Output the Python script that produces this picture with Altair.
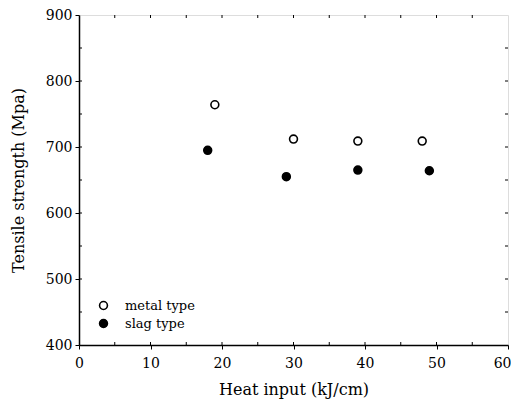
import altair as alt
import pandas as pd

heat_metal = [19, 30, 39, 48]
ts_metal = [764, 712, 709, 709]
heat_slag = [18, 29, 39, 49]
ts_slag = [695, 655, 665, 664]
series_names = ["metal type", "slag type"]

x_minor = [5, 15, 25, 35, 45, 55]
y_minor = [450, 550, 650, 750, 850]
x_major = [10, 20, 30, 40, 50]
y_major = [500, 600, 700, 800]

df = pd.DataFrame({
    "heat": heat_metal + heat_slag,
    "ts": ts_metal + ts_slag,
    "type": [series_names[0]] * len(heat_metal) + [series_names[1]] * len(heat_slag),
})

W, H = 429, 330
FONT = "DejaVu Serif"

xs = alt.Scale(domain=[0, 60], nice=False, zero=False)
ys = alt.Scale(domain=[400, 900], nice=False, zero=False)

points = alt.Chart(df).mark_point(filled=True, size=62, stroke="black", strokeWidth=1.6, opacity=1).encode(
    x=alt.X("heat:Q", scale=xs, title="Heat input (kJ/cm)",
            axis=alt.Axis(values=[0, 10, 20, 30, 40, 50, 60], tickSize=4, tickColor="black",
                          domainColor="black", domainWidth=1.5, labelFont=FONT, labelFontSize=14,
                          labelColor="black", labelPadding=7, labelFlush=False,
                          labelAlign=alt.condition("datum.value == 60", alt.value("right"), alt.value("center")),
                          labelOffset=alt.condition("datum.value == 60", alt.value(3), alt.value(0)),
                          titleFont=FONT,
                          titleFontSize=16, titleFontWeight="normal", titleColor="black",
                          titlePadding=11, grid=False)),
    y=alt.Y("ts:Q", scale=ys, title="Tensile strength (Mpa)",
            axis=alt.Axis(values=[400, 500, 600, 700, 800, 900], tickSize=4, tickColor="black",
                          domainColor="black", domainWidth=1.5, labelFont=FONT, labelFontSize=14,
                          labelColor="black", labelPadding=3, labelFlush=False, titleFont=FONT,
                          titleFontSize=16, titleFontWeight="normal", titleColor="black",
                          titlePadding=19, grid=False)),
    fill=alt.Fill("type:N", scale=alt.Scale(domain=series_names, range=["white", "black"]),
                  legend=alt.Legend(title=None, orient="none", legendX=18, legendY=284,
                                    labelFont=FONT, labelFontSize=13, labelColor="black",
                                    symbolSize=62, symbolStrokeColor="black", symbolStrokeWidth=1.6,
                                    symbolType="circle", rowPadding=3, labelOffset=15)),
)

xm = pd.DataFrame({"v": x_minor})
ym = pd.DataFrame({"v": y_minor})
xM = pd.DataFrame({"v": x_major})
yM = pd.DataFrame({"v": y_major})

def xticks(data, ln):
    b = alt.Chart(data).mark_rule(color="black", strokeWidth=1).encode(
        x=alt.X("v:Q", scale=xs), y=alt.value(H), y2=alt.value(H - ln))
    t = alt.Chart(data).mark_rule(color="black", strokeWidth=1).encode(
        x=alt.X("v:Q", scale=xs), y=alt.value(0), y2=alt.value(ln))
    return b + t

def yticks(data, ln):
    l = alt.Chart(data).mark_rule(color="black", strokeWidth=1).encode(
        y=alt.Y("v:Q", scale=ys), x=alt.value(0), x2=alt.value(ln))
    r = alt.Chart(data).mark_rule(color="black", strokeWidth=1).encode(
        y=alt.Y("v:Q", scale=ys), x=alt.value(W), x2=alt.value(W - ln))
    return l + r

chart = alt.layer(
    xticks(xm, 3), yticks(ym, 3), xticks(xM, 3), yticks(yM, 3), points
).properties(
    width=W, height=H,
    padding={"left": 71, "top": 7, "right": 3, "bottom": 57},
    autosize=alt.AutoSizeParams(type="none"),
).configure_view(stroke="black", strokeWidth=1.5).configure(background="white")

chart.save("out.html", embed_options={"renderer": "svg", "actions": False})
